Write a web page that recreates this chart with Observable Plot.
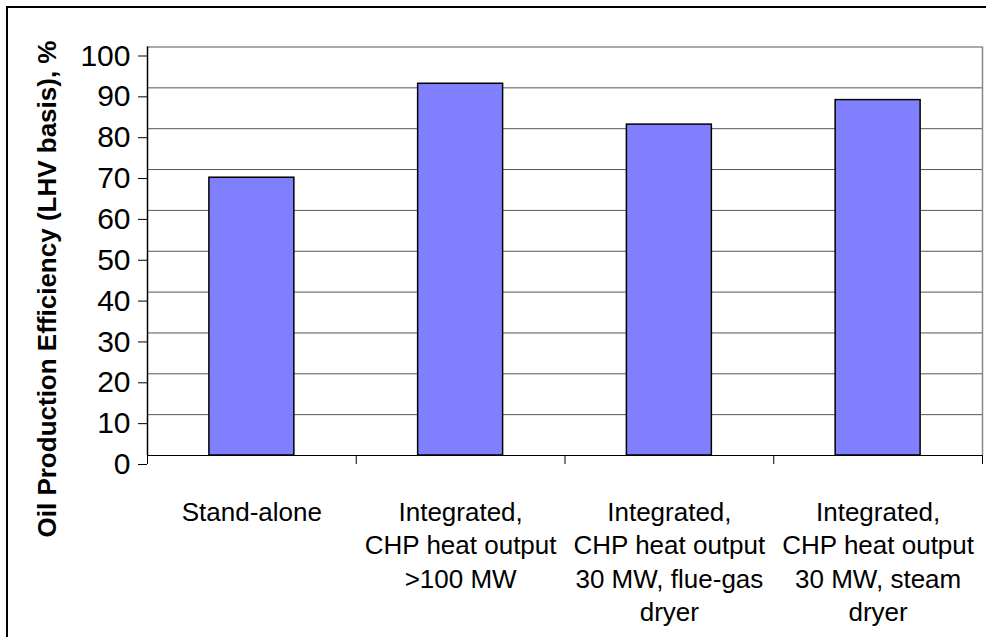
<!DOCTYPE html>
<html>
<head>
<meta charset="utf-8">
<script src="https://cdn.jsdelivr.net/npm/d3@7"></script>
<script src="https://cdn.jsdelivr.net/npm/@observablehq/plot@0.6"></script>
<style>
  html, body { margin: 0; padding: 0; background: #fff; }
  #wrap { position: relative; width: 986px; height: 637px; overflow: hidden; }
  #frame { position: absolute; left: 6px; top: 6px; width: 1000px; height: 700px;
           border-left: 2px solid #000; border-top: 2px solid #000; }
  #chart { position: absolute; left: 0; top: 0; }
</style>
</head>
<body>
<div id="wrap"><div id="frame"></div><div id="chart"></div></div>
<script>
// Oil production efficiency for four plant configurations
const categories = [
  "Stand-alone",
  "Integrated,\nCHP heat output\n>100 MW",
  "Integrated,\nCHP heat output\n30 MW, flue-gas\ndryer",
  "Integrated,\nCHP heat output\n30 MW, steam\ndryer"
];
const efficiency = [68, 91, 81, 87];
const yTicks = [0, 10, 20, 30, 40, 50, 60, 70, 80, 90, 100];
const yTitle = "Oil Production Efficiency (LHV basis), %";

// each category occupies one unit on a linear x scale; the bar fills the middle of it
const barFraction = 0.407;
const rows = categories.map((label, i) => ({
  label, value: efficiency[i],
  x1: i + (1 - barFraction) / 2, x2: i + (1 + barFraction) / 2, mid: i + 0.5
}));
const edges = d3.range(categories.length + 1);

const chart = Plot.plot({
  width: 986,
  height: 637,
  marginLeft: 147,
  marginRight: 4,
  marginTop: 46.5,
  marginBottom: 182,
  style: { fontFamily: "'Liberation Sans', Arial, sans-serif", fontSize: "30px", color: "#000", background: "transparent" },
  x: { domain: [0, categories.length], axis: null, label: null },
  y: { domain: [0, 100], axis: null, label: null },
  marks: [
    Plot.gridY(yTicks, { stroke: "#555", strokeOpacity: 1, strokeWidth: 1 }),
    Plot.ruleX([categories.length], { y1: 0, y2: 100, stroke: "#888", strokeWidth: 1.5 }),
    Plot.rectY(rows, { x1: "x1", x2: "x2", y1: 0, y2: "value", fill: "#8080FF", stroke: "#000", strokeWidth: 1.5 }),
    Plot.ruleY([0], { stroke: "#000", strokeWidth: 1 }),
    Plot.ruleX([0], { y1: 0, y2: 100, stroke: "#000", strokeWidth: 1.5 }),
    Plot.axisY({ ticks: yTicks, label: null, tickSize: 9, tickPadding: 8, dy: 9, fontSize: 30, tickFormat: d => String(d), stroke: "#000" }),
    Plot.axisX({ ticks: edges, label: null, tickSize: 9, tickFormat: () => "", stroke: "#000" }),
    Plot.text(rows, { x: "mid", y: 0, text: "label", dy: 42, lineAnchor: "top", lineHeight: 1.28, fontSize: 26, fill: "#000" }),
    Plot.text([yTitle], { frameAnchor: "left", y: 100, text: d => d, dx: -100, dy: -6.5, rotate: -90, textAnchor: "end", lineAnchor: "middle", fontSize: 26, fontWeight: "bold", fill: "#000" })
  ]
});
document.getElementById("chart").appendChild(chart);
</script>
</body>
</html>
